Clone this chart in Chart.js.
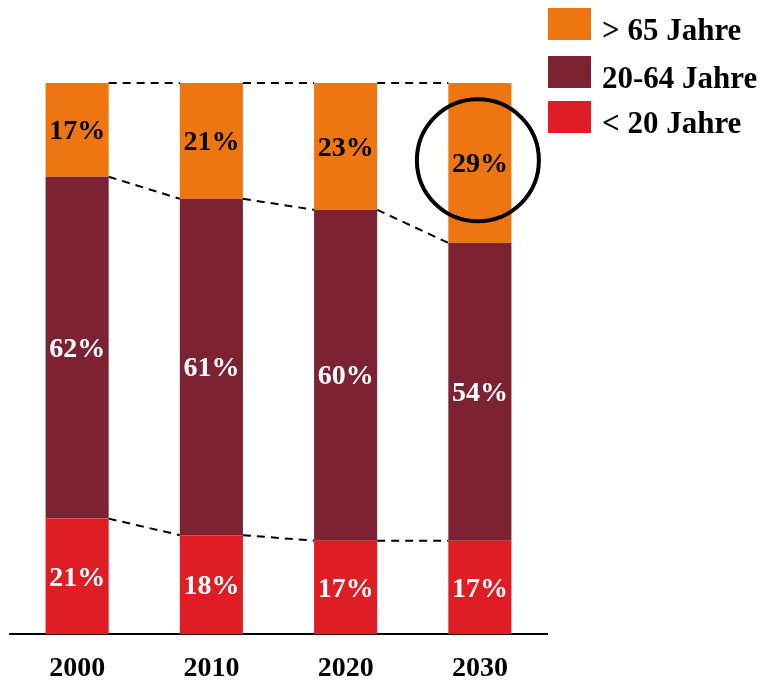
<!DOCTYPE html>
<html>
<head>
<meta charset="utf-8">
<script src="https://cdn.jsdelivr.net/npm/chart.js@4/dist/chart.umd.min.js"></script>
<style>
  html, body { margin: 0; padding: 0; background: #fff; }
  #wrap { width: 765px; height: 684px; }
</style>
</head>
<body>
<div id="wrap"><canvas id="myChart"></canvas></div>
<script>
const years = ['2000', '2010', '2020', '2030'];
const under20 = [21, 18, 17, 17];
const middle = [62, 61, 60, 54];
const over65 = [17, 21, 23, 29];
const seriesLabels = ['< 20 Jahre', '20-64 Jahre', '> 65 Jahre'];
const colors = ['#DE1D24', '#7C2233', '#EE7610'];
const labelColors = ['#fff', '#fff', '#000'];
const FONT = '"Liberation Serif", "Times New Roman", serif';

// value labels centred in each segment
const segLabels = {
  id: 'segLabels',
  afterDatasetsDraw(chart) {
    const c = chart.ctx;
    c.save();
    c.font = 'bold 28px ' + FONT;
    c.textAlign = 'center';
    c.textBaseline = 'middle';
    chart.data.datasets.forEach((ds, i) => {
      chart.getDatasetMeta(i).data.forEach((bar, j) => {
        c.fillStyle = labelColors[i];
        c.fillText(ds.data[j] + '%', bar.x, (bar.y + bar.base) / 2 + 2);
      });
    });
    c.restore();
  }
};

// dashed connectors between bars, circle on 2030, legend at right
const extras = {
  id: 'extras',
  afterDraw(chart) {
    const c = chart.ctx;
    const metas = chart.data.datasets.map((d, i) => chart.getDatasetMeta(i).data);
    c.save();
    c.strokeStyle = '#000';
    c.lineWidth = 2;
    c.setLineDash([8, 6]);
    metas.forEach(bars => {
      for (let j = 0; j < bars.length - 1; j++) {
        const a = bars[j], b = bars[j + 1];
        c.beginPath();
        c.moveTo(a.x + a.width / 2, a.y);
        c.lineTo(b.x - b.width / 2, b.y);
        c.stroke();
      }
    });
    c.setLineDash([]);

    const last = metas[2][3];
    const y = chart.scales.y;
    c.lineWidth = 4;
    c.beginPath();
    c.arc(last.x - 2, y.getPixelForValue(86), 61, 0, Math.PI * 2);
    c.stroke();

    c.font = 'bold 31px ' + FONT;
    c.textAlign = 'left';
    c.textBaseline = 'alphabetic';
    const rows = [2, 1, 0];
    const tops = [8, 56, 101];
    rows.forEach((k, r) => {
      c.fillStyle = colors[k];
      c.fillRect(548, tops[r], 43, 32);
      c.fillStyle = '#000';
      c.fillText(seriesLabels[k], 602, tops[r] + 32);
    });
    c.restore();
  }
};

const ctx = document.getElementById('myChart').getContext('2d');
const chart = new Chart(ctx, {
  type: 'bar',
  data: {
    labels: years,
    datasets: [
      { label: seriesLabels[0], data: under20, backgroundColor: colors[0] },
      { label: seriesLabels[1], data: middle, backgroundColor: colors[1] },
      { label: seriesLabels[2], data: over65, backgroundColor: colors[2] }
    ]
  },
  options: {
    responsive: true,
    maintainAspectRatio: false,
    animation: false,
    datasets: {
      bar: { barPercentage: 0.47, categoryPercentage: 1, borderWidth: 0 }
    },
    layout: { padding: { left: 10, right: 218, top: 83, bottom: -20 } },
    plugins: {
      legend: { display: false },
      tooltip: { enabled: false }
    },
    scales: {
      x: {
        stacked: true,
        grid: { display: false, drawTicks: false },
        border: { display: true, color: '#000', width: 2 },
        ticks: {
          color: '#000',
          padding: 18,
          font: { family: FONT, size: 28, weight: 'bold' }
        }
      },
      y: {
        stacked: true,
        display: false,
        min: 0,
        max: 100
      }
    }
  },
  plugins: [segLabels, extras]
});
</script>
</body>
</html>
